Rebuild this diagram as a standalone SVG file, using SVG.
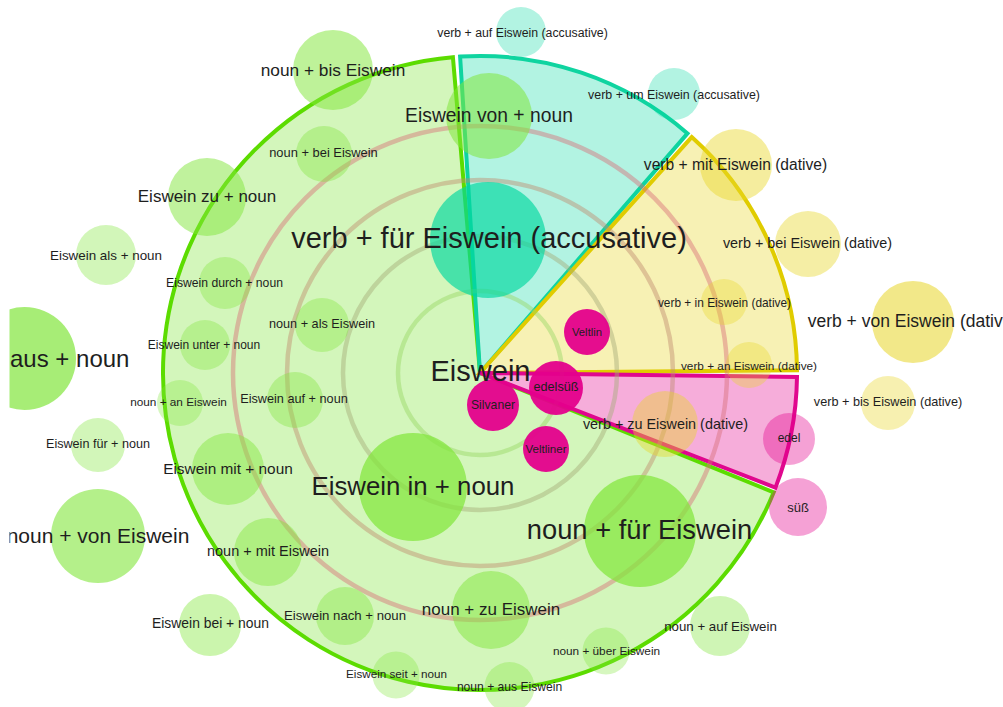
<svg xmlns="http://www.w3.org/2000/svg" width="1003" height="707" viewBox="0 0 1003 707">
  <defs>
    <clipPath id="frame"><rect x="9.5" y="0" width="994" height="707"/></clipPath>
  </defs>
  <style>
    .sec { stroke-width: 4; stroke-linejoin: miter; }
    .sec-g { fill: rgb(130,230,60); fill-opacity: 0.35; stroke: #5cdc00; }
    .sec-t { fill: rgb(0,215,160); fill-opacity: 0.3; stroke: #0fd4a0; }
    .sec-y { fill: rgb(232,214,40); fill-opacity: 0.35; stroke: #e0cc00; }
    .sec-p { fill: rgb(228,0,140); fill-opacity: 0.32; stroke: #e0078e; }
    .ring { fill: none; stroke-width: 4.5; stroke-opacity: 0.45; }
    .g circle { fill: rgb(130,230,60); }
    .t circle { fill: rgb(0,215,160); }
    .y circle { fill: rgb(232,214,40); }
    .p circle { fill: rgb(228,0,140); }
    text { font-family: "Liberation Sans", Arial, sans-serif; fill: #1e1e1e; text-anchor: middle; dominant-baseline: central; }
  </style>
  <rect width="1003" height="707" fill="#ffffff"/>
  <g clip-path="url(#frame)">
    <!-- pie sectors around the centre word -->
    <g id="sectors">
      <path id="sector-noun" class="sec sec-g" d="M480,373 L773.7,492.3 A317,317 0 1 1 452.9,57.2 Z"/>
      <path id="sector-accusative" class="sec sec-t" d="M480,373 L460.1,56.6 A317,317 0 0 1 687.5,133.4 Z"/>
      <path id="sector-dative" class="sec sec-y" d="M480,373 L691.7,137.1 A317,317 0 0 1 797.0,370.2 Z"/>
      <path id="sector-adjective" class="sec sec-p" d="M480,373 L797.0,376.9 A317,317 0 0 1 775.5,487.6 Z"/>
    </g>
    <!-- concentric distance rings -->
    <g id="rings">
      <circle class="ring" cx="480" cy="373" r="82" stroke="rgb(150,215,100)"/>
      <circle class="ring" cx="480" cy="373" r="137" stroke="rgb(165,170,120)"/>
      <circle class="ring" cx="480" cy="373" r="193" stroke="rgb(190,140,110)"/>
      <circle class="ring" cx="480" cy="373" r="247" stroke="rgb(215,110,120)"/>
    </g>

    <!-- noun / Eiswein + preposition bubbles -->
    <g id="n-bis" class="g"><circle cx="333" cy="70" r="40" opacity="0.52"/><text x="333" y="70" font-size="17.3">noun + bis Eiswein</text></g>
    <g id="n-von-noun" class="g"><circle cx="489" cy="116" r="43" opacity="0.55"/><text x="489" y="115" font-size="19.3">Eiswein von + noun</text></g>
    <g id="n-bei" class="g"><circle cx="324" cy="154" r="28" opacity="0.38"/><text x="323.5" y="152" font-size="12.9">noun + bei Eiswein</text></g>
    <g id="n-zu-noun" class="g"><circle cx="207" cy="197" r="39" opacity="0.5"/><text x="207" y="196" font-size="17">Eiswein zu + noun</text></g>
    <g id="n-als-noun" class="g"><circle cx="106" cy="255" r="30" opacity="0.36"/><text x="106" y="255" font-size="13.4">Eiswein als + noun</text></g>
    <g id="n-durch-noun" class="g"><circle cx="225" cy="283" r="26" opacity="0.36"/><text x="224.5" y="283" font-size="12.2">Eiswein durch + noun</text></g>
    <g id="n-als" class="g"><circle cx="322" cy="325" r="27" opacity="0.37"/><text x="322" y="324" font-size="12.7">noun + als Eiswein</text></g>
    <g id="n-unter-noun" class="g"><circle cx="205" cy="345" r="25" opacity="0.35"/><text x="204" y="345" font-size="12">Eiswein unter + noun</text></g>
    <g id="n-aus-noun" class="g"><circle cx="24.5" cy="358.5" r="51.5" opacity="0.7"/><text x="10" y="358" font-size="24" style="text-anchor:start">aus + noun</text></g>
    <g id="n-an" class="g"><circle cx="180" cy="403" r="23" opacity="0.33"/><text x="178.5" y="402" font-size="11.8">noun + an Eiswein</text></g>
    <g id="n-auf-noun" class="g"><circle cx="295" cy="400" r="28" opacity="0.38"/><text x="294" y="399" font-size="12.7">Eiswein auf + noun</text></g>
    <g id="n-fuer-noun" class="g"><circle cx="98" cy="445" r="27" opacity="0.36"/><text x="98" y="444" font-size="12.6">Eiswein für + noun</text></g>
    <g id="n-mit-noun" class="g"><circle cx="228" cy="469" r="36" opacity="0.46"/><text x="228" y="468" font-size="15.4">Eiswein mit + noun</text></g>
    <g id="n-in-noun" class="g"><circle cx="413" cy="487" r="54" opacity="0.72"/><text x="413" y="486" font-size="25.8">Eiswein in + noun</text></g>
    <g id="n-von" class="g"><circle cx="98" cy="536" r="47" opacity="0.6"/><text x="98" y="535" font-size="21">noun + von Eiswein</text></g>
    <g id="n-mit" class="g"><circle cx="268" cy="552" r="34" opacity="0.45"/><text x="268" y="551" font-size="14.5">noun + mit Eiswein</text></g>
    <g id="n-bei-noun" class="g"><circle cx="210" cy="625" r="31" opacity="0.42"/><text x="210.5" y="623" font-size="13.9">Eiswein bei + noun</text></g>
    <g id="n-nach-noun" class="g"><circle cx="345" cy="616" r="29" opacity="0.4"/><text x="345" y="615" font-size="13.2">Eiswein nach + noun</text></g>
    <g id="n-seit-noun" class="g"><circle cx="396" cy="675" r="23.5" opacity="0.33"/><text x="396.5" y="673" font-size="11.7">Eiswein seit + noun</text></g>
    <g id="n-zu" class="g"><circle cx="491" cy="610" r="39" opacity="0.5"/><text x="491" y="609" font-size="17">noun + zu Eiswein</text></g>
    <g id="n-aus" class="g"><circle cx="509.5" cy="687" r="25" opacity="0.34"/><text x="509.5" y="687" font-size="12.1">noun + aus Eiswein</text></g>
    <g id="n-ueber" class="g"><circle cx="606" cy="651" r="23.5" opacity="0.33"/><text x="606.5" y="651" font-size="11.8">noun + über Eiswein</text></g>
    <g id="n-auf" class="g"><circle cx="720" cy="626" r="30" opacity="0.38"/><text x="720.5" y="626" font-size="13.3">noun + auf Eiswein</text></g>
    <g id="n-fuer" class="g"><circle cx="640" cy="531" r="56" opacity="0.72"/><text x="639.5" y="529" font-size="27.3">noun + für Eiswein</text></g>

    <!-- verb + preposition (accusative) -->
    <g id="a-fuer" class="t"><circle cx="488" cy="240" r="58" opacity="0.66"/><text x="489" y="238" font-size="29">verb + für Eiswein (accusative)</text></g>
    <g id="a-auf" class="t"><circle cx="521" cy="32" r="25" opacity="0.3"/><text x="522.5" y="33" font-size="12.3">verb + auf Eiswein (accusative)</text></g>
    <g id="a-um" class="t"><circle cx="674" cy="94" r="26" opacity="0.3"/><text x="674" y="95" font-size="12.4">verb + um Eiswein (accusative)</text></g>

    <!-- verb + preposition (dative) -->
    <g id="d-mit" class="y"><circle cx="736" cy="165" r="36" opacity="0.45"/><text x="735.5" y="164" font-size="15.6">verb + mit Eiswein (dative)</text></g>
    <g id="d-bei" class="y"><circle cx="808" cy="244" r="33" opacity="0.42"/><text x="807.5" y="243" font-size="14.4">verb + bei Eiswein (dative)</text></g>
    <g id="d-in" class="y"><circle cx="724" cy="302" r="23" opacity="0.35"/><text x="724.5" y="303" font-size="11.9">verb + in Eiswein (dative)</text></g>
    <g id="d-von" class="y"><circle cx="913" cy="322" r="41" opacity="0.55"/><text x="913" y="321" font-size="17.5">verb + von Eiswein (dative)</text></g>
    <g id="d-an" class="y"><circle cx="749" cy="365" r="23" opacity="0.35"/><text x="749" y="366" font-size="11.8">verb + an Eiswein (dative)</text></g>
    <g id="d-bis" class="y"><circle cx="888" cy="403" r="27" opacity="0.37"/><text x="888" y="402" font-size="12.7">verb + bis Eiswein (dative)</text></g>
    <g id="d-zu" class="y"><circle cx="665" cy="424" r="33" opacity="0.42"/><text x="665.5" y="424" font-size="14.4">verb + zu Eiswein (dative)</text></g>

    <!-- adjectives and grape names -->
    <g id="adj-edel" class="p"><circle cx="789" cy="439" r="26" opacity="0.37"/><text x="789" y="438" font-size="12">edel</text></g>
    <g id="adj-suess" class="p"><circle cx="798" cy="507" r="29" opacity="0.37"/><text x="798" y="507" font-size="13">süß</text></g>
    <g id="veltlin" class="p"><circle cx="587" cy="332" r="23" opacity="0.95"/><text x="587" y="332" font-size="11.3">Veltlin</text></g>
    <g id="edelsuess" class="p"><circle cx="556" cy="388" r="27" opacity="0.95"/><text x="556" y="387" font-size="12.7">edelsüß</text></g>
    <g id="silvaner" class="p"><circle cx="493" cy="405" r="26" opacity="0.95"/><text x="493" y="405" font-size="12.2">Silvaner</text></g>
    <g id="veltliner" class="p"><circle cx="546" cy="449" r="23" opacity="0.95"/><text x="546" y="448" font-size="11.6">Veltliner</text></g>

    <!-- centre word -->
    <g id="center"><text x="480.5" y="371" font-size="29">Eiswein</text></g>
  </g>
</svg>
